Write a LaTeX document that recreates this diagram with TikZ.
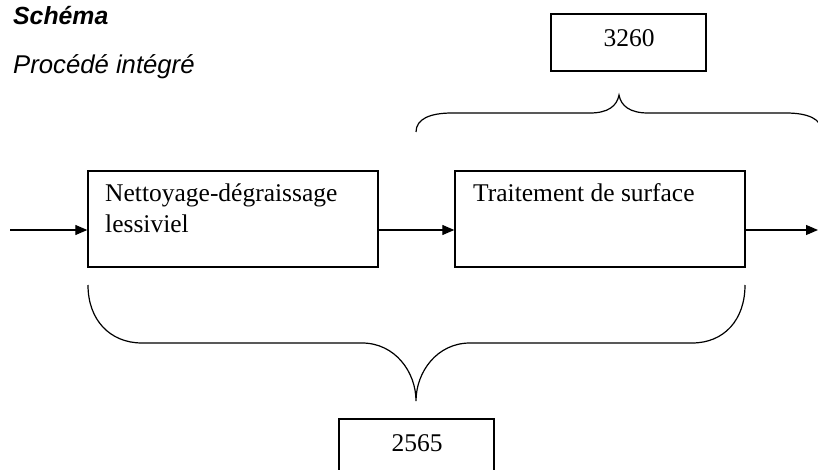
\documentclass[tikz,border=0pt]{standalone}
\usepackage{fontspec}
\setmainfont{Liberation Serif}
\newfontfamily\arialf{Liberation Sans}
\usetikzlibrary{arrows.meta}
\tikzset{
  procbox/.style={draw, line width=1.4pt, inner sep=0pt},
  boxtext/.style={anchor=base west, inner sep=0pt, font=\fontsize{25.5}{30}\selectfont},
  numtext/.style={inner sep=0pt, font=\fontsize{25.5}{30}\selectfont},
  arr/.style={line width=1.2pt, -{Triangle[length=12pt,width=10pt]}},
  brace/.style={line width=1.2pt},
}
\begin{document}
\begin{tikzpicture}[x=1pt,y=-1pt]
\useasboundingbox (0,0) rectangle (818,470);
\begin{scope}
\clip (0,0) rectangle (818,470);
% titles
\node[anchor=base west, inner sep=0pt, font=\arialf\bfseries\itshape\fontsize{24.8}{29}\selectfont] (t1) at (13,25) {Schéma};
\node[anchor=base west, inner sep=0pt, font=\arialf\itshape\fontsize{25.7}{30}\selectfont] (t2) at (13,74) {Procédé intégré};
% boxes
\node[procbox, minimum width=290pt, minimum height=96pt] (b1) at (233,219) {};
\node[procbox, minimum width=290pt, minimum height=96pt] (b2) at (600,219) {};
\node[boxtext] (l1) at (105,202) {Nettoyage-dégraissage};
\node[boxtext] (l2) at (105,233) {lessiviel};
\node[boxtext] (l3) at (473,202) {Traitement de surface};
\node[procbox, minimum width=155pt, minimum height=57pt] (top) at (628.5,42.5) {};
\node[numtext] (n1) at (629,38) {3260};
\node[procbox, minimum width=155pt, minimum height=60pt] (bot) at (416.5,449) {};
\node[numtext] (n2) at (417,443) {2565};
% connectors
\coordinate (in) at (10,230);
\coordinate (out) at (818,230);
\draw[arr] (in) -- (in -| b1.west);
\draw[arr] (b1.east |- in) -- (b2.west |- in);
\draw[arr] (b2.east |- in) -- (out);
% top brace
\draw[brace] (416,132) .. controls (416,119) and (430,113) .. (452,113) -- (590,113)
  .. controls (608,113) and (617,106) .. (619,95)
  .. controls (621,106) and (630,113) .. (648,113) -- (786,113)
  .. controls (808,113) and (822,119) .. (822,132);
% bottom brace
\draw[brace] (88,285) .. controls (88,320) and (110,343) .. (142,343) -- (362,343)
  .. controls (395,343) and (416,372) .. (416,401)
  .. controls (416,372) and (437,343) .. (470,343) -- (692,343)
  .. controls (724,343) and (745,320) .. (745,285);
\end{scope}
\end{tikzpicture}
\end{document}
